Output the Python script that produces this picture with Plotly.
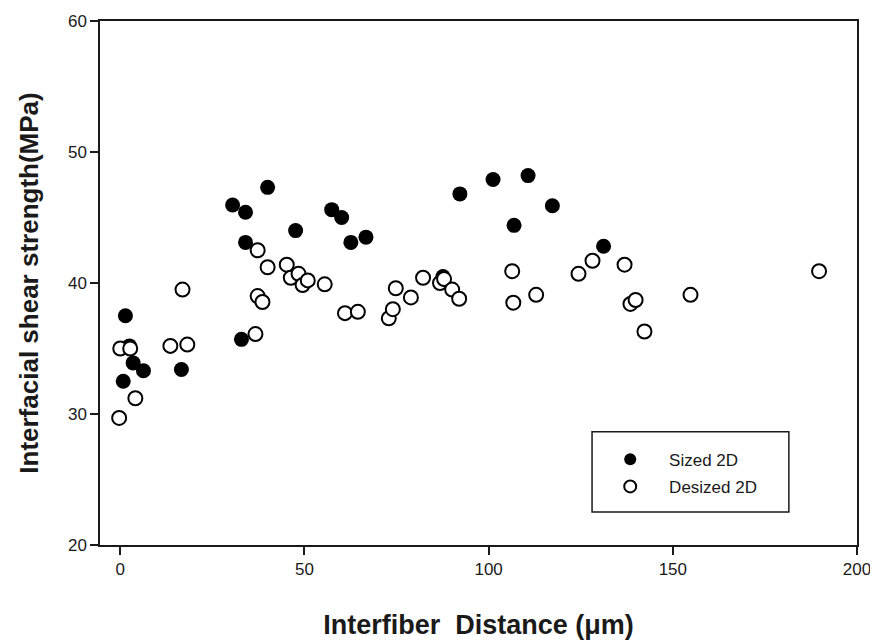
import plotly.graph_objects as go

sized_x = [1.4, 2.5, 3.5, 6.3, 0.8, 16.6, 32.9, 40.0, 30.5, 34.0, 34.0, 47.6, 57.4, 60.1,
           62.6, 66.7, 87.6, 92.2, 101.2, 110.7, 117.3, 106.9, 131.2]
sized_y = [37.5, 35.2, 33.9, 33.3, 32.5, 33.4, 35.7, 47.3, 45.95, 45.4, 43.1, 44.0, 45.6, 45.0,
           43.1, 43.5, 40.5, 46.8, 47.9, 48.2, 45.9, 44.4, 42.8]

desized_x = [0.0, 2.7, 4.1, -0.3, 13.6, 18.2, 16.9, 36.7, 37.3, 38.6, 37.3, 40.0, 45.2, 46.3,
             48.4, 49.5, 50.9, 55.5, 61.0, 64.5, 72.9, 74.0, 74.8, 78.9, 82.2, 86.8, 87.9,
             90.1, 92.0, 106.4, 106.7, 112.9, 124.4, 128.2, 136.9, 138.5, 139.9, 142.3,
             154.8, 189.7]
desized_y = [35.0, 35.0, 31.2, 29.7, 35.2, 35.3, 39.5, 36.1, 39.0, 38.55, 42.5, 41.2, 41.4, 40.4,
             40.7, 39.85, 40.2, 39.9, 37.7, 37.8, 37.3, 38.0, 39.6, 38.9, 40.4, 40.0, 40.3,
             39.5, 38.8, 40.9, 38.5, 39.1, 40.7, 41.7, 41.4, 38.4, 38.7, 36.3,
             39.1, 40.9]

x_ticks = [0, 50, 100, 150, 200]
y_ticks = [20, 30, 40, 50, 60]

FONT = "Arial, 'Liberation Sans', sans-serif"
INK = "#1a1a1a"

fig = go.Figure()
fig.add_trace(go.Scatter(
    x=sized_x, y=sized_y, mode="markers", name="\u00a0\u00a0\u00a0\u00a0Sized 2D",
    legendgroup="a",
    marker=dict(symbol="circle", size=15, color="black", line=dict(width=0)),
))
fig.add_trace(go.Scatter(
    x=desized_x, y=desized_y, mode="markers", name="\u00a0\u00a0\u00a0\u00a0Desized 2D",
    legendgroup="b",
    marker=dict(symbol="circle", size=14, color="white", line=dict(width=2, color="black")),
))

axis_common = dict(
    showline=True, linecolor=INK, linewidth=1.5, mirror=True,
    ticks="outside", ticklen=8, tickwidth=1.5, tickcolor=INK,
    showgrid=False, zeroline=False,
    tickfont=dict(family=FONT, size=17, color=INK),
)

fig.update_xaxes(
    range=[-5.5, 200], tickvals=x_ticks,
    title=dict(text="<b>Interfiber  Distance (μm)</b>", font=dict(family=FONT, size=27, color=INK), standoff=40),
    **axis_common,
)
fig.update_yaxes(
    range=[20, 60], tickvals=y_ticks,
    title=dict(text="<b>Interfacial shear strength(MPa)</b>", font=dict(family=FONT, size=26, color=INK), standoff=22),
    **axis_common,
)

# legend frame drawn as a box
fig.add_shape(type="rect", xref="paper", yref="paper",
              x0=0.650, x1=0.910, y0=0.063, y1=0.216,
              line=dict(color=INK, width=1.5), fillcolor="white", layer="below")

fig.update_layout(
    width=870, height=632,
    margin=dict(l=92, r=21, t=13, b=95, autoexpand=False),
    paper_bgcolor="white", plot_bgcolor="white",
    showlegend=True,
    legend=dict(
        x=0.674, y=0.197, xanchor="left", yanchor="top",
        bgcolor="rgba(0,0,0,0)", borderwidth=0,
        font=dict(family=FONT, size=17, color=INK),
        itemsizing="constant",
        traceorder="grouped",
        tracegroupgap=2,
    ),
)

fig.write_html("out.html")
